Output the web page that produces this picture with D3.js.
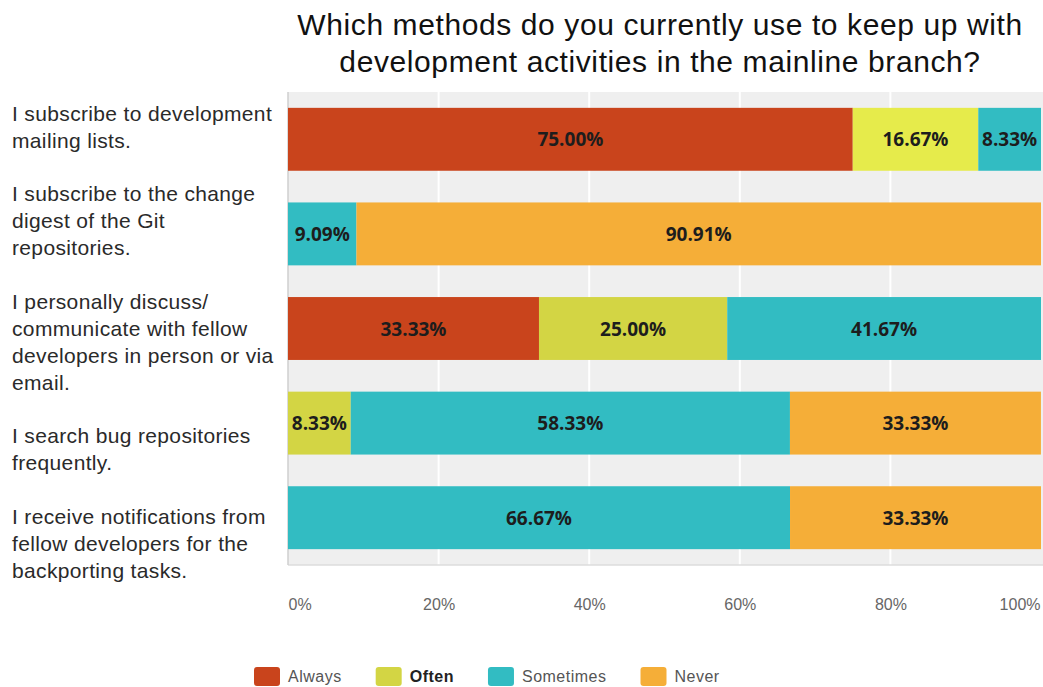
<!DOCTYPE html>
<html>
<head>
<meta charset="utf-8">
<script src="https://cdn.jsdelivr.net/npm/d3@7"></script>
<style>
  body { margin: 0; background: #fff; }
  svg { display: block; }
</style>
</head>
<body>
<svg id="chart" width="1043" height="687"></svg>
<script>
// survey answers, one label per row (split into the wrapped lines)
const questions = [
    ["I subscribe to development", "mailing lists."],
    ["I subscribe to the change", "digest of the Git", "repositories."],
    ["I personally discuss/", "communicate with fellow", "developers in person or via", "email."],
    ["I search bug repositories", "frequently."],
    ["I receive notifications from", "fellow developers for the", "backporting tasks."]
];
const answers = ["Always", "Often", "Sometimes", "Never"];
const always    = [75.00, 0, 33.33, 0, 0];
const often     = [16.67, 0, 25.00, 8.33, 0];
const sometimes = [8.33, 9.09, 41.67, 58.33, 66.67];
const never     = [0, 90.91, 0, 33.33, 33.33];
const tickValues = [0, 20, 40, 60, 80, 100];
const titleLines = [
    "Which methods do you currently use to keep up with",
    "development activities in the mainline branch?"
];

const colors = {
    Always: "#c9441c",
    Often: "#d3d544",
    Sometimes: "#32bcc2",
    Never: "#f5ae38"
};
// the screenshot was taken with the mouse over "Often" on the first row
const hovered = { row: 0, key: "Often", fill: "#e6eb4b" };
// nudges of each wrapped label relative to its bar centre
const labelShift = [-18, -33, -20, 20, 6];

const svg = d3.select("#chart");
const plot = { left: 288, right: 1043, top: 92, bottom: 565 };

const table = questions.map((q, i) => ({
    row: i,
    Always: always[i],
    Often: often[i],
    Sometimes: sometimes[i],
    Never: never[i]
}));
const series = d3.stack().keys(answers)(table);

const x = d3.scaleLinear().domain([0, 100]).range([plot.left, 1041]);
const y = d3.scaleBand()
    .domain(d3.range(questions.length))
    .range([plot.top, plot.bottom])
    .paddingInner(0.335)
    .paddingOuter(0.1675);

// title
svg.append("g")
    .selectAll("text")
    .data(titleLines)
    .join("text")
    .attr("x", 660)
    .attr("y", (d, i) => 35 + i * 37)
    .attr("text-anchor", "middle")
    .attr("font-family", "Liberation Sans, Arial, sans-serif")
    .attr("font-size", 30)
    .attr("letter-spacing", 0.6)
    .attr("fill", "#111")
    .text(d => d);

// plot background and grid
svg.append("rect")
    .attr("x", plot.left)
    .attr("y", plot.top)
    .attr("width", plot.right - plot.left)
    .attr("height", plot.bottom - plot.top)
    .attr("fill", "#efefef");

svg.append("g")
    .selectAll("line")
    .data(tickValues.filter(t => t > 0 && t < 100))
    .join("line")
    .attr("x1", d => x(d))
    .attr("x2", d => x(d))
    .attr("y1", plot.top)
    .attr("y2", plot.bottom)
    .attr("stroke", "#fff")
    .attr("stroke-width", 2);

svg.append("line")
    .attr("x1", plot.left)
    .attr("x2", plot.right)
    .attr("y1", plot.bottom)
    .attr("y2", plot.bottom)
    .attr("stroke", "#dcdcdc")
    .attr("stroke-width", 1.5);

svg.append("line")
    .attr("x1", plot.left)
    .attr("x2", plot.left)
    .attr("y1", plot.top)
    .attr("y2", plot.bottom)
    .attr("stroke", "#cfcfcf")
    .attr("stroke-width", 1.5);

// stacked bars
const layers = svg.append("g")
    .selectAll("g")
    .data(series)
    .join("g");

layers.selectAll("rect")
    .data(d => d.map(v => ({ key: d.key, v })))
    .join("rect")
    .attr("x", d => x(d.v[0]))
    .attr("y", d => y(d.v.data.row))
    .attr("width", d => x(d.v[1]) - x(d.v[0]))
    .attr("height", y.bandwidth())
    .attr("fill", d => (d.v.data.row === hovered.row && d.key === hovered.key)
        ? hovered.fill : colors[d.key]);

// value labels
const labelData = series.flatMap(s => s
    .filter(v => v[1] - v[0] > 0)
    .map(v => ({ key: s.key, v })));

svg.append("g")
    .selectAll("text")
    .data(labelData)
    .join("text")
    .attr("x", d => (x(d.v[0]) + x(d.v[1])) / 2)
    .attr("y", d => y(d.v.data.row) + y.bandwidth() / 2 + 7)
    .attr("text-anchor", "middle")
    .attr("font-family", "Open Sans, sans-serif")
    .attr("font-weight", 700)
    .attr("font-size", 19)
    .attr("fill", "#1d1d1d")
    .text(d => d.v.data[d.key].toFixed(2) + "%");

// category labels
const cats = svg.append("g")
    .selectAll("text")
    .data(questions)
    .join("text")
    .attr("x", 12)
    .attr("y", (d, i) => y(i) + y.bandwidth() / 2 + labelShift[i])
    .attr("font-family", "Liberation Sans, Arial, sans-serif")
    .attr("font-size", 21)
    .attr("letter-spacing", 0.35)
    .attr("fill", "#2a2a2a");

cats.selectAll("tspan")
    .data(d => d)
    .join("tspan")
    .attr("x", 12)
    .attr("dy", (d, i) => i === 0 ? 0 : 27)
    .text(d => d);

// x axis
const axis = svg.append("g")
    .attr("transform", `translate(0,${plot.bottom})`)
    .call(d3.axisBottom(x)
        .tickValues(tickValues)
        .tickFormat(d => d + "%")
        .tickSize(0)
        .tickPadding(34));

axis.select(".domain").remove();
axis.selectAll("text")
    .attr("font-family", "Liberation Sans, Arial, sans-serif")
    .attr("font-size", 16)
    .attr("fill", "#666")
    .attr("text-anchor", (d, i) => i === 0 ? "start" : (d === 100 ? "end" : "middle"))
    .attr("dx", d => d === 100 ? -1 : 0);

// legend
const legend = svg.append("g").attr("transform", "translate(254,667)");
let lx = 0;
answers.forEach(name => {
    const item = legend.append("g").attr("transform", `translate(${lx},0)`);
    item.append("rect")
        .attr("width", 26)
        .attr("height", 19)
        .attr("rx", 3)
        .attr("fill", colors[name]);
    const t = item.append("text")
        .attr("x", 34)
        .attr("y", 15)
        .attr("font-family", "Liberation Sans, Arial, sans-serif")
        .attr("font-size", 16)
        .attr("letter-spacing", 0.5)
        .attr("font-weight", name === hovered.key ? 700 : 400)
        .attr("fill", name === hovered.key ? "#222" : "#555")
        .text(name);
    lx += 34 + t.node().getComputedTextLength() + 34;
});
</script>
</body>
</html>
